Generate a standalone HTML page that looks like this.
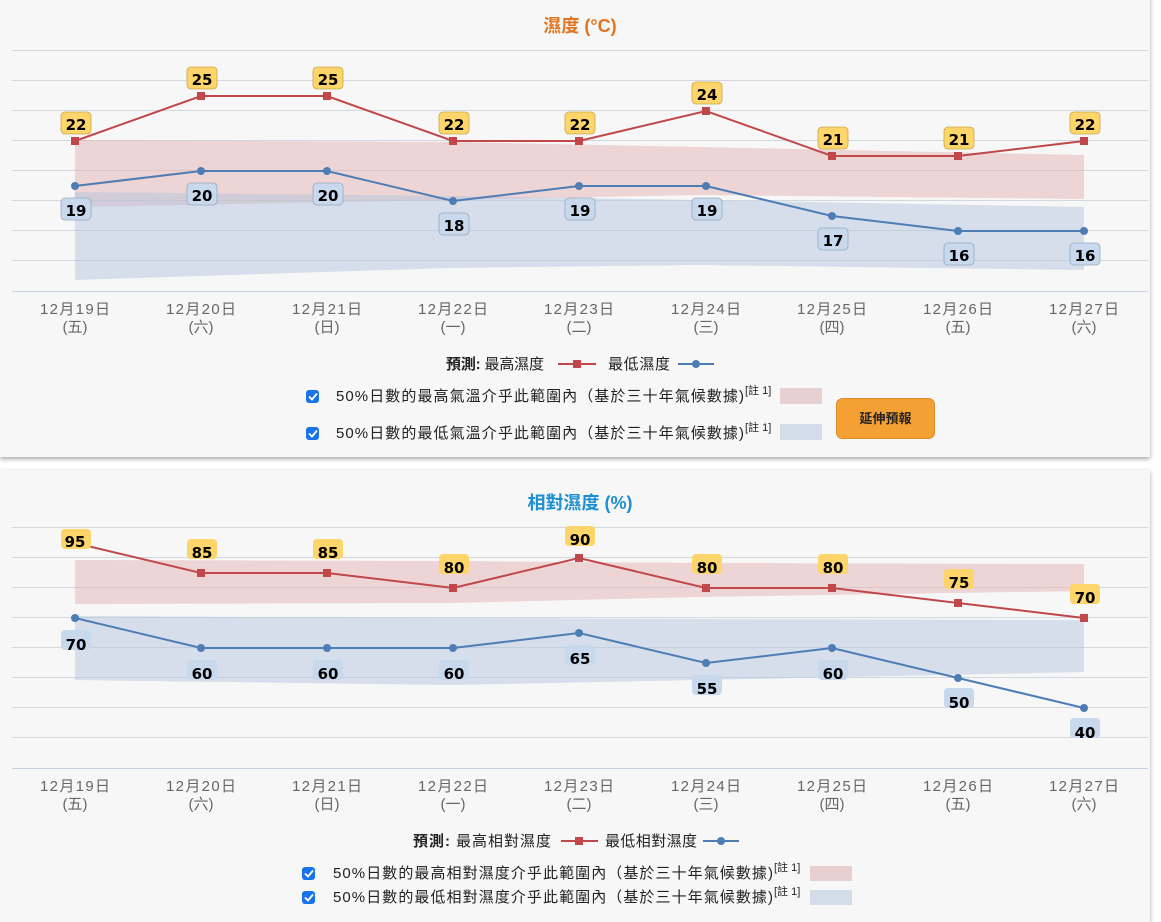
<!DOCTYPE html>
<html><head><meta charset="utf-8"><style>
body{margin:0;background:#fff;width:1161px;height:922px;overflow:hidden;font-family:"Liberation Sans","Noto Sans CJK TC",sans-serif}
</style></head><body>
<svg width="1161" height="922" xmlns="http://www.w3.org/2000/svg" style="position:absolute;left:0;top:0;font-family:'Liberation Sans','Noto Sans CJK TC',sans-serif">
<defs>
<filter id="sh" x="-5%" y="-5%" width="110%" height="110%"><feDropShadow dx="0" dy="2" stdDeviation="2.5" flood-color="#000" flood-opacity="0.35"/></filter>
</defs>
<rect x="0" y="-5" width="1150" height="462" fill="#f7f7f7" filter="url(#sh)"/>
<rect x="0" y="470" width="1150" height="460" fill="#f7f7f7" filter="url(#sh)"/>

<!-- TOP CHART -->
<text x="580" y="32" text-anchor="middle" font-size="18" font-weight="bold" fill="#e2731f">濕度 (°C)</text>
<g stroke="#d3d7df" stroke-width="1">
<line x1="12" x2="1148" y1="50.5" y2="50.5"/><line x1="12" x2="1148" y1="80.5" y2="80.5"/><line x1="12" x2="1148" y1="110.5" y2="110.5"/><line x1="12" x2="1148" y1="140.5" y2="140.5"/><line x1="12" x2="1148" y1="170.5" y2="170.5"/><line x1="12" x2="1148" y1="200.5" y2="200.5"/><line x1="12" x2="1148" y1="230.5" y2="230.5"/><line x1="12" x2="1148" y1="260.5" y2="260.5"/>
</g>
<line x1="12" x2="1148" y1="291.5" y2="291.5" stroke="#c5d0e0"/>
<polygon points="75,140 450,142 700,147 1084,155 1084,199 700,195 450,200 75,207" fill="#e4b3b3" opacity="0.5"/>
<polygon points="75,192 450,196 700,200 1084,207 1084,270 700,265 450,268 75,280" fill="#b4c6dd" opacity="0.5"/>
<polyline points="75,141 201,96 327,96 453,141 579,141 706,111 832,156 958,156 1084,141" fill="none" stroke="#c0474a" stroke-width="2"/>
<polyline points="75,186 201,171 327,171 453,201 579,186 706,186 832,216 958,231 1084,231" fill="none" stroke="#4e7db5" stroke-width="2"/>
<g fill="#c0474a">
<rect x="71" y="137" width="8" height="8"/><rect x="197" y="92" width="8" height="8"/><rect x="323" y="92" width="8" height="8"/><rect x="449" y="137" width="8" height="8"/><rect x="575" y="137" width="8" height="8"/><rect x="702" y="107" width="8" height="8"/><rect x="828" y="152" width="8" height="8"/><rect x="954" y="152" width="8" height="8"/><rect x="1080" y="137" width="8" height="8"/>
</g>
<g fill="#4e7db5">
<circle cx="75" cy="186" r="4"/><circle cx="201" cy="171" r="4"/><circle cx="327" cy="171" r="4"/><circle cx="453" cy="201" r="4"/><circle cx="579" cy="186" r="4"/><circle cx="706" cy="186" r="4"/><circle cx="832" cy="216" r="4"/><circle cx="958" cy="231" r="4"/><circle cx="1084" cy="231" r="4"/>
</g>
<g font-family="'DejaVu Sans',sans-serif" font-weight="bold" font-size="15" text-anchor="middle">
<g fill="#fdd56a" stroke="#c9a84a" stroke-width="0.8">
<rect x="61" y="112" width="30" height="22" rx="4"/><rect x="187" y="67" width="30" height="22" rx="4"/><rect x="313" y="67" width="30" height="22" rx="4"/><rect x="439" y="112" width="30" height="22" rx="4"/><rect x="565" y="112" width="30" height="22" rx="4"/><rect x="692" y="82" width="30" height="22" rx="4"/><rect x="818" y="127" width="30" height="22" rx="4"/><rect x="944" y="127" width="30" height="22" rx="4"/><rect x="1070" y="112" width="30" height="22" rx="4"/>
</g>
<g fill="#c8d9ee" stroke="#98a9c0" stroke-width="0.8">
<rect x="61" y="198" width="30" height="22" rx="4"/><rect x="187" y="183" width="30" height="22" rx="4"/><rect x="313" y="183" width="30" height="22" rx="4"/><rect x="439" y="213" width="30" height="22" rx="4"/><rect x="565" y="198" width="30" height="22" rx="4"/><rect x="692" y="198" width="30" height="22" rx="4"/><rect x="818" y="228" width="30" height="22" rx="4"/><rect x="944" y="243" width="30" height="22" rx="4"/><rect x="1070" y="243" width="30" height="22" rx="4"/>
</g>
<g fill="#000">
<text x="76" y="130">22</text><text x="202" y="85">25</text><text x="328" y="85">25</text><text x="454" y="130">22</text><text x="580" y="130">22</text><text x="707" y="100">24</text><text x="833" y="145">21</text><text x="959" y="145">21</text><text x="1085" y="130">22</text>
<text x="76" y="216">19</text><text x="202" y="201">20</text><text x="328" y="201">20</text><text x="454" y="231">18</text><text x="580" y="216">19</text><text x="707" y="216">19</text><text x="833" y="246">17</text><text x="959" y="261">16</text><text x="1085" y="261">16</text>
</g>
</g>
<g font-size="15" fill="#666" text-anchor="middle">
<text x="75" y="314" textLength="70">12月19日</text><text x="75" y="332">(五)</text>
<text x="201" y="314" textLength="70">12月20日</text><text x="201" y="332">(六)</text>
<text x="327" y="314" textLength="70">12月21日</text><text x="327" y="332">(日)</text>
<text x="453" y="314" textLength="70">12月22日</text><text x="453" y="332">(一)</text>
<text x="579" y="314" textLength="70">12月23日</text><text x="579" y="332">(二)</text>
<text x="706" y="314" textLength="70">12月24日</text><text x="706" y="332">(三)</text>
<text x="832" y="314" textLength="70">12月25日</text><text x="832" y="332">(四)</text>
<text x="958" y="314" textLength="70">12月26日</text><text x="958" y="332">(五)</text>
<text x="1084" y="314" textLength="70">12月27日</text><text x="1084" y="332">(六)</text>
</g>
<g font-size="15" fill="#222">
<text x="446" y="369" textLength="98"><tspan font-weight="bold">預測:</tspan> 最高濕度</text>
<line x1="558" x2="596" y1="364" y2="364" stroke="#c0474a" stroke-width="2"/><rect x="573" y="360" width="8" height="8" fill="#c0474a"/>
<text x="608" y="369" textLength="62">最低濕度</text>
<line x1="678" x2="714" y1="364" y2="364" stroke="#4e7db5" stroke-width="2"/><circle cx="696" cy="364" r="4" fill="#4e7db5"/>
<rect x="306" y="390" width="13" height="13" rx="3" fill="#1a73e8"/><path d="M309 396.5l3 3 5-6" stroke="#fff" stroke-width="1.8" fill="none"/>
<text x="336" y="401" textLength="408">50%日數的最高氣溫介乎此範圍內（基於三十年氣候數據)</text><text x="745" y="394" font-size="11">[註 1]</text>
<rect x="780" y="388" width="42" height="16" fill="#e8cfd0"/>
<rect x="306" y="427" width="13" height="13" rx="3" fill="#1a73e8"/><path d="M309 433.5l3 3 5-6" stroke="#fff" stroke-width="1.8" fill="none"/>
<text x="336" y="438" textLength="408">50%日數的最低氣溫介乎此範圍內（基於三十年氣候數據)</text><text x="745" y="431" font-size="11">[註 1]</text>
<rect x="780" y="424" width="42" height="16" fill="#d3dce9"/>
</g>
<rect x="836.5" y="398.5" width="98" height="40" rx="6" fill="#f5a033" stroke="#dd8d2a"/>
<text x="885.5" y="423" text-anchor="middle" font-size="13" font-weight="bold" fill="#222">延伸預報</text>

<!-- BOTTOM CHART -->
<text x="580" y="509" text-anchor="middle" font-size="18" font-weight="bold" fill="#1b8fd2">相對濕度 (%)</text>
<g stroke="#d3d7df" stroke-width="1">
<line x1="12" x2="1148" y1="527.5" y2="527.5"/><line x1="12" x2="1148" y1="557.5" y2="557.5"/><line x1="12" x2="1148" y1="587.5" y2="587.5"/><line x1="12" x2="1148" y1="617.5" y2="617.5"/><line x1="12" x2="1148" y1="647.5" y2="647.5"/><line x1="12" x2="1148" y1="677.5" y2="677.5"/><line x1="12" x2="1148" y1="707.5" y2="707.5"/><line x1="12" x2="1148" y1="737.5" y2="737.5"/>
</g>
<line x1="12" x2="1148" y1="768.5" y2="768.5" stroke="#c5d0e0"/>
<polygon points="75,560 450,561 700,563 1084,564 1084,591 700,597 450,603 75,604" fill="#e4b3b3" opacity="0.5"/>
<polygon points="75,616 450,618 700,619 1084,620 1084,672 700,680 450,685 75,680" fill="#b4c6dd" opacity="0.5"/>
<polyline points="75,543 201,573 327,573 453,588 579,558 706,588 832,588 958,603 1084,618" fill="none" stroke="#c0474a" stroke-width="2"/>
<polyline points="75,618 201,648 327,648 453,648 579,633 706,663 832,648 958,678 1084,708" fill="none" stroke="#4e7db5" stroke-width="2"/>
<g fill="#c0474a">
<rect x="71" y="539" width="8" height="8"/><rect x="197" y="569" width="8" height="8"/><rect x="323" y="569" width="8" height="8"/><rect x="449" y="584" width="8" height="8"/><rect x="575" y="554" width="8" height="8"/><rect x="702" y="584" width="8" height="8"/><rect x="828" y="584" width="8" height="8"/><rect x="954" y="599" width="8" height="8"/><rect x="1080" y="614" width="8" height="8"/>
</g>
<g fill="#4e7db5">
<circle cx="75" cy="618" r="4"/><circle cx="201" cy="648" r="4"/><circle cx="327" cy="648" r="4"/><circle cx="453" cy="648" r="4"/><circle cx="579" cy="633" r="4"/><circle cx="706" cy="663" r="4"/><circle cx="832" cy="648" r="4"/><circle cx="958" cy="678" r="4"/><circle cx="1084" cy="708" r="4"/>
</g>
<g font-family="'DejaVu Sans',sans-serif" font-weight="bold" font-size="15" text-anchor="middle">
<g fill="#fdd56a">
<rect x="61" y="529" width="30" height="20" rx="4"/><rect x="187" y="539" width="30" height="20" rx="4"/><rect x="313" y="539" width="30" height="20" rx="4"/><rect x="439" y="554" width="30" height="20" rx="4"/><rect x="565" y="526" width="30" height="20" rx="4"/><rect x="692" y="554" width="30" height="20" rx="4"/><rect x="818" y="554" width="30" height="20" rx="4"/><rect x="944" y="569" width="30" height="20" rx="4"/><rect x="1070" y="584" width="30" height="20" rx="4"/>
</g>
<g fill="#c8d9ee">
<rect x="61" y="630" width="30" height="20" rx="4"/><rect x="187" y="660" width="30" height="20" rx="4"/><rect x="313" y="660" width="30" height="20" rx="4"/><rect x="439" y="660" width="30" height="20" rx="4"/><rect x="565" y="645" width="30" height="20" rx="4"/><rect x="692" y="675" width="30" height="20" rx="4"/><rect x="818" y="660" width="30" height="20" rx="4"/><rect x="944" y="688" width="30" height="20" rx="4"/><rect x="1070" y="718" width="30" height="20" rx="4"/>
</g>
<g fill="#000">
<text x="75" y="547">95</text><text x="202" y="558">85</text><text x="328" y="558">85</text><text x="454" y="573">80</text><text x="580" y="545">90</text><text x="707" y="573">80</text><text x="833" y="573">80</text><text x="959" y="588">75</text><text x="1085" y="603">70</text>
<text x="76" y="650">70</text><text x="202" y="679">60</text><text x="328" y="679">60</text><text x="454" y="679">60</text><text x="580" y="664">65</text><text x="707" y="694">55</text><text x="833" y="679">60</text><text x="959" y="708">50</text><text x="1085" y="738">40</text>
</g>
</g>
<g font-size="15" fill="#666" text-anchor="middle">
<text x="75" y="791" textLength="70">12月19日</text><text x="75" y="809">(五)</text>
<text x="201" y="791" textLength="70">12月20日</text><text x="201" y="809">(六)</text>
<text x="327" y="791" textLength="70">12月21日</text><text x="327" y="809">(日)</text>
<text x="453" y="791" textLength="70">12月22日</text><text x="453" y="809">(一)</text>
<text x="579" y="791" textLength="70">12月23日</text><text x="579" y="809">(二)</text>
<text x="706" y="791" textLength="70">12月24日</text><text x="706" y="809">(三)</text>
<text x="832" y="791" textLength="70">12月25日</text><text x="832" y="809">(四)</text>
<text x="958" y="791" textLength="70">12月26日</text><text x="958" y="809">(五)</text>
<text x="1084" y="791" textLength="70">12月27日</text><text x="1084" y="809">(六)</text>
</g>
<g font-size="15" fill="#222">
<text x="413" y="846" textLength="138"><tspan font-weight="bold">預測:</tspan> 最高相對濕度</text>
<line x1="523" x2="560" y1="841" y2="841" stroke="#c0474a" stroke-width="2" transform="translate(38,0)"/><rect x="575" y="837" width="8" height="8" fill="#c0474a"/>
<text x="605" y="846" textLength="92">最低相對濕度</text>
<line x1="703" x2="739" y1="841" y2="841" stroke="#4e7db5" stroke-width="2"/><circle cx="721" cy="841" r="4" fill="#4e7db5"/>
<rect x="302" y="867" width="13" height="13" rx="3" fill="#1a73e8"/><path d="M305 873.5l3 3 5-6" stroke="#fff" stroke-width="1.8" fill="none"/>
<text x="333" y="878" textLength="440">50%日數的最高相對濕度介乎此範圍內（基於三十年氣候數據)</text><text x="774" y="871" font-size="11">[註 1]</text>
<rect x="810" y="866" width="42" height="15" fill="#e8cfd0"/>
<rect x="302" y="891" width="13" height="13" rx="3" fill="#1a73e8"/><path d="M305 897.5l3 3 5-6" stroke="#fff" stroke-width="1.8" fill="none"/>
<text x="333" y="902" textLength="440">50%日數的最低相對濕度介乎此範圍內（基於三十年氣候數據)</text><text x="774" y="895" font-size="11">[註 1]</text>
<rect x="810" y="890" width="42" height="15" fill="#d3dce9"/>
</g>
</svg>
</body></html>
